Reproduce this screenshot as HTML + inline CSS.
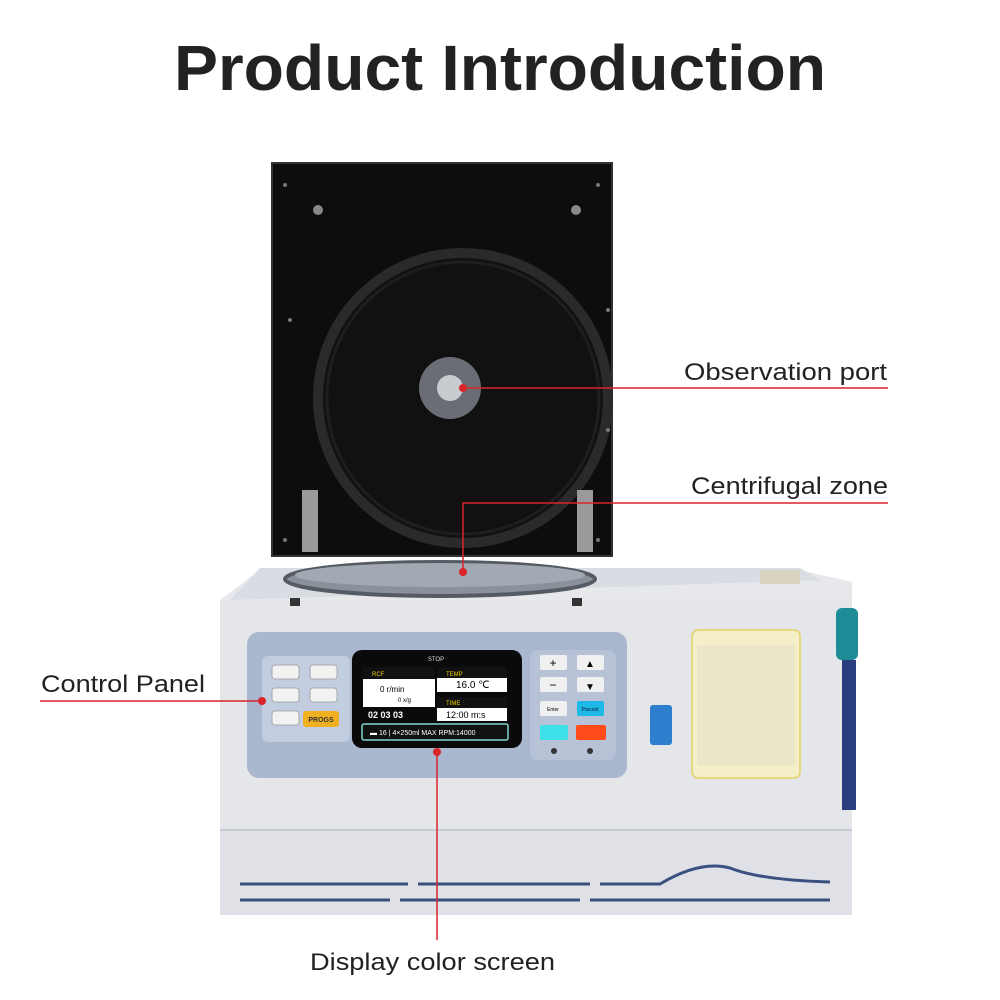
<!DOCTYPE html>
<html><head><meta charset="utf-8"><style>
html,body{margin:0;padding:0;background:#fff;}
svg{display:block}
</style></head><body>
<svg width="1000" height="1000" viewBox="0 0 1000 1000" xmlns="http://www.w3.org/2000/svg" font-family="Liberation Sans, sans-serif">
<rect width="1000" height="1000" fill="#fff"/>
<text x="500" y="90" text-anchor="middle" font-size="64" font-weight="bold" fill="#222" textLength="652" lengthAdjust="spacingAndGlyphs">Product Introduction</text>

<!-- lid -->
<rect x="272" y="163" width="340" height="393" fill="#0d0d0d"/>
<rect x="272" y="163" width="340" height="393" fill="none" stroke="#333" stroke-width="2"/>
<circle cx="463" cy="398" r="145" fill="#111" stroke="#2a2a2a" stroke-width="10"/>
<circle cx="463" cy="398" r="136" fill="none" stroke="#1e1e1e" stroke-width="3"/>
<circle cx="450" cy="388" r="31" fill="#6a6e74"/>
<circle cx="450" cy="388" r="13" fill="#c8ccd0"/>
<g fill="#777"><circle cx="285" cy="185" r="2"/><circle cx="598" cy="185" r="2"/><circle cx="285" cy="540" r="2"/><circle cx="598" cy="540" r="2"/><circle cx="608" cy="310" r="2"/><circle cx="608" cy="430" r="2"/><circle cx="290" cy="320" r="2"/></g>
<circle cx="318" cy="210" r="5" fill="#888"/><circle cx="576" cy="210" r="5" fill="#888"/>
<!-- hinges -->
<rect x="302" y="490" width="16" height="62" fill="#9a9a9a"/>
<rect x="577" y="490" width="16" height="62" fill="#9a9a9a"/>

<!-- body -->
<polygon points="260,570 800,570 852,582 852,915 220,915 220,600" fill="#e6e8ec"/>
<polygon points="260,568 800,568 820,580 230,600" fill="#d9dce2"/>
<ellipse cx="440" cy="579" rx="155" ry="17" fill="#8a919a" stroke="#555b63" stroke-width="4"/>
<ellipse cx="440" cy="575" rx="145" ry="12" fill="#a2a9b2"/>
<rect x="220" y="600" width="632" height="315" fill="#e4e6ea"/>
<rect x="220" y="830" width="632" height="85" fill="#dfe1e6"/>
<line x1="220" y1="830" x2="852" y2="830" stroke="#c5c8ce" stroke-width="2"/>
<g stroke="#3b4f80" stroke-width="3">
<line x1="240" y1="884" x2="408" y2="884"/><line x1="418" y1="884" x2="590" y2="884"/>
<path d="M600 884 L660 884 Q700 860 730 868 Q760 880 830 882" fill="none"/>
<line x1="240" y1="900" x2="390" y2="900"/><line x1="400" y1="900" x2="580" y2="900"/><line x1="590" y1="900" x2="830" y2="900"/>
</g>
<rect x="836" y="608" width="22" height="52" rx="6" fill="#1e8c96"/>
<rect x="842" y="660" width="14" height="150" fill="#2a3e80"/>
<rect x="760" y="570" width="40" height="14" fill="#d8d4c0"/>
<rect x="290" y="598" width="10" height="8" fill="#333"/><rect x="572" y="598" width="10" height="8" fill="#333"/>

<!-- panel -->
<rect x="247" y="632" width="380" height="146" rx="12" fill="#a9b7cf"/>
<rect x="262" y="656" width="88" height="86" rx="6" fill="#c3cde0"/>
<g fill="#f2f2f2" stroke="#999" stroke-width="0.8">
<rect x="272" y="665" width="27" height="14" rx="3"/><rect x="310" y="665" width="27" height="14" rx="3"/>
<rect x="272" y="688" width="27" height="14" rx="3"/><rect x="310" y="688" width="27" height="14" rx="3"/>
<rect x="272" y="711" width="27" height="14" rx="3"/>
</g>
<rect x="303" y="711" width="36" height="16" rx="3" fill="#f0b020"/>
<text x="321" y="722" font-size="7" font-weight="bold" text-anchor="middle" fill="#333">PROGS</text>

<rect x="352" y="650" width="170" height="98" rx="10" fill="#0a0a0a"/>
<text x="436" y="661" font-size="6" fill="#ddd" text-anchor="middle">STOP</text>
<rect x="363" y="667" width="72" height="40" fill="#fff"/><rect x="437" y="667" width="70" height="25" fill="#fff"/>
<rect x="437" y="697" width="70" height="24" fill="#fff"/>
<rect x="363" y="667" width="72" height="12" fill="#111"/><rect x="437" y="667" width="70" height="11" fill="#111"/>
<rect x="437" y="697" width="70" height="11" fill="#111"/>
<text x="372" y="676" font-size="6" fill="#f0d000">RCF</text>
<text x="446" y="676" font-size="6" fill="#f0d000">TEMP</text>
<text x="446" y="705" font-size="6" fill="#f0d000">TIME</text>
<text x="380" y="692" font-size="8" fill="#000">0   r/min</text>
<text x="398" y="702" font-size="6" fill="#000">0  x/g</text>
<text x="456" y="688" font-size="10" fill="#000">16.0 ℃</text>
<text x="446" y="718" font-size="9" fill="#000">12:00  m:s</text>
<text x="368" y="718" font-size="9" fill="#fff" font-weight="bold">02  03  03</text>
<rect x="362" y="724" width="146" height="16" rx="2" fill="#111" stroke="#7fd8d0" stroke-width="1.5"/>
<text x="370" y="735" font-size="7" fill="#fff">▬ 16 | 4×250ml  MAX RPM:14000</text>

<rect x="530" y="650" width="86" height="110" rx="8" fill="#b7c2d6"/>
<g fill="#f0f0f0"><rect x="540" y="655" width="27" height="15" rx="2"/><rect x="577" y="655" width="27" height="15" rx="2"/>
<rect x="540" y="677" width="27" height="15" rx="2"/><rect x="577" y="677" width="27" height="15" rx="2"/>
<rect x="540" y="701" width="27" height="15" rx="2"/></g>
<text x="553" y="667" font-size="12" text-anchor="middle">+</text><text x="553" y="689" font-size="12" text-anchor="middle">−</text>
<text x="590" y="667" font-size="10" text-anchor="middle">▲</text><text x="590" y="690" font-size="10" text-anchor="middle">▼</text>
<text x="553" y="711" font-size="5" text-anchor="middle">Enter</text>
<rect x="577" y="701" width="27" height="15" rx="2" fill="#1eb8e6"/>
<text x="590" y="711" font-size="5" text-anchor="middle" fill="#113">Precool</text>
<rect x="540" y="725" width="28" height="15" rx="2" fill="#3ee0e8"/>
<rect x="576" y="725" width="30" height="15" rx="2" fill="#ff4a1a"/>
<circle cx="554" cy="751" r="3" fill="#333"/><circle cx="590" cy="751" r="3" fill="#333"/>

<!-- label -->
<rect x="692" y="630" width="108" height="148" rx="6" fill="#f4efc8" stroke="#e6d880" stroke-width="2"/>
<rect x="697" y="645" width="98" height="120" fill="#ece6c8"/>
<rect x="650" y="705" width="22" height="40" rx="3" fill="#2f7fcf"/>

<!-- callouts -->
<g stroke="#d9242a" stroke-width="1.5" fill="none">
<line x1="463" y1="388" x2="888" y2="388"/>
<polyline points="888,503 463,503 463,572"/>
<line x1="40" y1="701" x2="262" y2="701"/>
<line x1="437" y1="752" x2="437" y2="940"/>
</g>
<g fill="#d9242a"><circle cx="463" cy="388" r="4"/><circle cx="463" cy="572" r="4"/><circle cx="262" cy="701" r="4"/><circle cx="437" cy="752" r="4"/></g>
<g font-size="24" fill="#222">
<text x="684" y="380" textLength="203" lengthAdjust="spacingAndGlyphs">Observation port</text>
<text x="691" y="494" textLength="197" lengthAdjust="spacingAndGlyphs">Centrifugal zone</text>
<text x="41" y="692" textLength="164" lengthAdjust="spacingAndGlyphs">Control Panel</text>
<text x="310" y="970" textLength="245" lengthAdjust="spacingAndGlyphs">Display color screen</text>
</g>
</svg>
</body></html>
